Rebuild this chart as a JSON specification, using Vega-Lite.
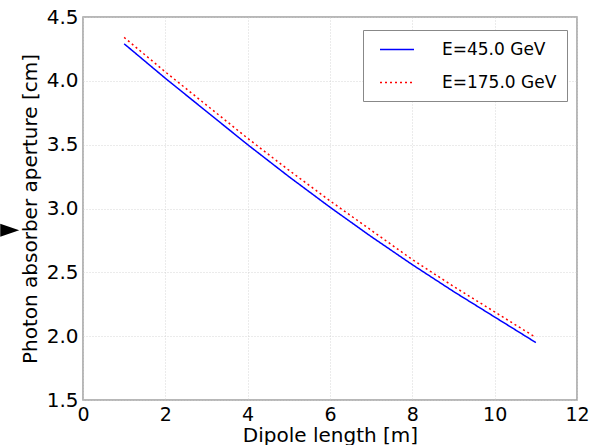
{
  "$schema": "https://vega.github.io/schema/vega-lite/v6.json",
  "width": 494,
  "height": 383,
  "autosize": {"type": "none"},
  "padding": {"left": 83, "top": 17, "right": 23, "bottom": 45},
  "background": "white",
  "config": {
    "font": "DejaVu Sans",
    "view": {"stroke": "#a0a0a0", "strokeWidth": 1.5},
    "axis": {
      "grid": true,
      "gridColor": "#cccccc",
      "gridDash": [1, 2],
      "gridWidth": 0.8,
      "domain": false,
      "ticks": false,
      "labelFlush": false,
      "labelOverlap": false,
      "labelFontSize": 20,
      "labelColor": "black",
      "titleFontSize": 20,
      "titleFontWeight": "normal",
      "titleColor": "black"
    }
  },
  "datasets": {
    "curves": [
      {"length": 1, "aperture": 4.29, "series": "E=45.0 GeV"},
      {"length": 2, "aperture": 4.02, "series": "E=45.0 GeV"},
      {"length": 3, "aperture": 3.76, "series": "E=45.0 GeV"},
      {"length": 4, "aperture": 3.5, "series": "E=45.0 GeV"},
      {"length": 5, "aperture": 3.25, "series": "E=45.0 GeV"},
      {"length": 6, "aperture": 3.01, "series": "E=45.0 GeV"},
      {"length": 7, "aperture": 2.78, "series": "E=45.0 GeV"},
      {"length": 8, "aperture": 2.56, "series": "E=45.0 GeV"},
      {"length": 9, "aperture": 2.35, "series": "E=45.0 GeV"},
      {"length": 10, "aperture": 2.15, "series": "E=45.0 GeV"},
      {"length": 11, "aperture": 1.95, "series": "E=45.0 GeV"},
      {"length": 1, "aperture": 4.34, "series": "E=175.0 GeV"},
      {"length": 2, "aperture": 4.07, "series": "E=175.0 GeV"},
      {"length": 3, "aperture": 3.81, "series": "E=175.0 GeV"},
      {"length": 4, "aperture": 3.55, "series": "E=175.0 GeV"},
      {"length": 5, "aperture": 3.3, "series": "E=175.0 GeV"},
      {"length": 6, "aperture": 3.06, "series": "E=175.0 GeV"},
      {"length": 7, "aperture": 2.83, "series": "E=175.0 GeV"},
      {"length": 8, "aperture": 2.6, "series": "E=175.0 GeV"},
      {"length": 9, "aperture": 2.39, "series": "E=175.0 GeV"},
      {"length": 10, "aperture": 2.19, "series": "E=175.0 GeV"},
      {"length": 11, "aperture": 1.99, "series": "E=175.0 GeV"}
    ],
    "pointer": [
      {"length": -1.78, "aperture": 2.83}
    ]
  },
  "layer": [
    {
      "data": {"name": "curves"},
      "mark": {"type": "line", "strokeWidth": 1.5},
      "encoding": {
        "x": {
          "field": "length",
          "type": "quantitative",
          "title": "Dipole length [m]",
          "scale": {"domain": [0, 12], "nice": false, "zero": false},
          "axis": {"values": [0, 2, 4, 6, 8, 10, 12], "labelFontSize": 19, "labelPadding": 5, "titlePadding": 1}
        },
        "y": {
          "field": "aperture",
          "type": "quantitative",
          "title": "Photon absorber aperture [cm]",
          "scale": {"domain": [1.5, 4.5], "nice": false, "zero": false},
          "axis": {"values": [1.5, 2, 2.5, 3, 3.5, 4, 4.5], "format": ".1f", "labelPadding": 5, "titlePadding": 6}
        },
        "color": {
          "field": "series",
          "type": "nominal",
          "scale": {"domain": ["E=45.0 GeV", "E=175.0 GeV"], "range": ["#0000ff", "#ff0000"]},
          "legend": {
            "title": null,
            "orient": "none",
            "legendX": 280,
            "legendY": 13,
            "direction": "vertical",
            "fillColor": "white",
            "strokeColor": "#888888",
            "padding": 10,
            "cornerRadius": 0,
            "symbolType": "M-2,0L2,0",
            "symbolSize": 289,
            "symbolOffset": 14.5,
            "symbolStrokeWidth": 1.5,
            "labelFontSize": 17,
            "labelColor": "black",
            "labelOffset": 35.5,
            "rowPadding": 15
          }
        },
        "strokeDash": {
          "field": "series",
          "type": "nominal",
          "scale": {"domain": ["E=45.0 GeV", "E=175.0 GeV"], "range": [[1, 0], [2, 3]]},
          "legend": null
        }
      }
    },
    {
      "data": {"name": "pointer"},
      "mark": {"type": "point", "shape": "M-1,-0.68L1,0L-1,0.68Z", "filled": true, "color": "black", "opacity": 1, "size": 361, "clip": false},
      "encoding": {
        "x": {"field": "length", "type": "quantitative"},
        "y": {"field": "aperture", "type": "quantitative"}
      }
    }
  ]
}
